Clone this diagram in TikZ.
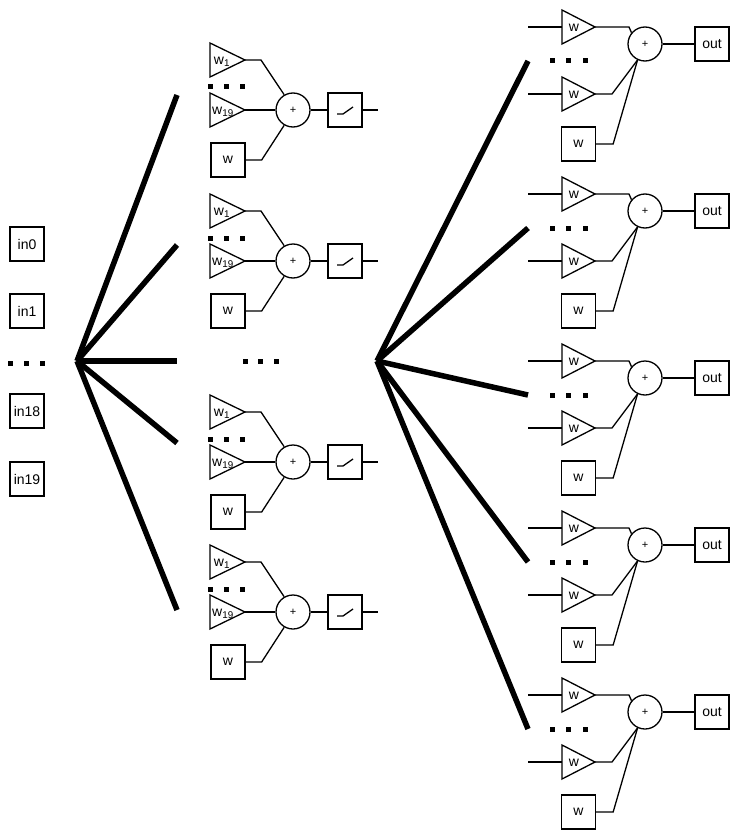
\documentclass[tikz,border=0pt]{standalone}
\usepackage{fontspec}
\setmainfont{Liberation Sans}
\usetikzlibrary{calc}

\tikzset{
	box/.style={draw, line width=1.3pt, minimum size=34pt, inner sep=0pt},
	sumnode/.style={draw, circle, line width=1.3pt, minimum size=34pt, inner sep=0pt, font=\fontsize{11}{13}\selectfont},
	wire/.style={line width=1.3pt},
	fan/.style={line width=5.5pt},
	dotsq/.style={fill, minimum size=5pt, inner sep=0pt}
}

\begin{document}
\begin{tikzpicture}[x=1pt, y=-1pt, font=\fontsize{14}{16}\selectfont]
	\useasboundingbox (0,0) rectangle (740,840);
	\node[box] (in0) at (27,244) {in0};
	\node[box] (in1) at (27,311) {in1};
	\foreach \x [count=\j] in {10.5,26.5,42.5} \node[dotsq] (indot\j) at (\x,363) {};
	\node[box] (in18) at (27,411) {in18};
	\node[box] (in19) at (27,479) {in19};

	\coordinate (fanA) at (77,361);
	\foreach \y [count=\i] in {95,245,361,443,610} {
		\coordinate (fanA\i) at (177,\y);
		\draw[fan] (fanA) -- (fanA\i);
	}

	\foreach \y [count=\i] in {110,261,462,612} {
		\draw[wire] (210,{\y-67}) -- (245,{\y-50}) coordinate (hw1\i) -- (210,{\y-33}) -- cycle;
		\node (hw1l\i) at (222,{\y-48}) {w\textsubscript{1}};
		\foreach \x [count=\j] in {210.5,226.5,242.5} \node[dotsq] (hdot\i\j) at (\x,{\y-23}) {};
		\draw[wire] (210,{\y-17}) -- (245,\y) coordinate (hw19\i) -- (210,{\y+17}) -- cycle;
		\node (hw19l\i) at (223,{\y+2}) {w\textsubscript{19}};
		\node[box] (hb\i) at (228,{\y+50}) {w};
		\node[sumnode] (hs\i) at (293,\y) {+};
		\node[box] (hr\i) at (345,\y) {};
		\draw[wire] ($(hr\i)+(-8,4)$) -- ++(6,0) -- ++(10,-7);
		\coordinate (ho\i) at (378,\y);
		\draw[wire] (hw1\i) -- ++(16,0) -- (hs\i.120);
		\draw[wire] (hw19\i) -- (hs\i);
		\draw[wire] (hb\i.east) -- ++(16,0) -- (hs\i.240);
		\draw[wire] (hs\i) -- (hr\i);
		\draw[wire] (hr\i) -- (ho\i);
	}
	\foreach \x [count=\j] in {245,260.5,276.5} \node[dotsq] (mdot\j) at (\x,361) {};

	\coordinate (fanB) at (377,361);
	\foreach \y [count=\i] in {44,211,378,545,712} {
		\coordinate (fanB\i) at (528,{\y+17});
		\draw[fan] (fanB) -- (fanB\i);
		\coordinate (oi1\i) at (528,{\y-17});
		\coordinate (ol1\i) at (562,{\y-17});
		\coordinate (oi2\i) at (528,{\y+50});
		\coordinate (ol2\i) at (562,{\y+50});
		\draw[wire] (562,{\y-34}) -- (595,{\y-17}) coordinate (ow1\i) -- (562,\y) -- cycle;
		\draw[wire] (562,{\y+33}) -- (595,{\y+50}) coordinate (ow2\i) -- (562,{\y+67}) -- cycle;
		\node (ow1l\i) at (574,{\y-16}) {w};
		\node (ow2l\i) at (574,{\y+51}) {w};
		\draw[wire] (oi1\i) -- (ol1\i);
		\draw[wire] (oi2\i) -- (ol2\i);
		\foreach \x [count=\j] in {552.5,568.5,585} \node[dotsq] (odot\i\j) at (\x,{\y+17}) {};
		\node[box] (ob\i) at (578.5,{\y+100}) {w};
		\node[sumnode] (os\i) at (645,\y) {+};
		\node[box] (out\i) at (712,\y) {out};
		\draw[wire] (ow1\i) -- ++(34,0) -- (os\i.140);
		\draw[wire] (ow2\i) -- ++(17,0) -- (os\i.245);
		\draw[wire] (ob\i.east) -- ++(17,0) -- (os\i.245);
		\draw[wire] (os\i) -- (out\i);
	}
\end{tikzpicture}
\end{document}
